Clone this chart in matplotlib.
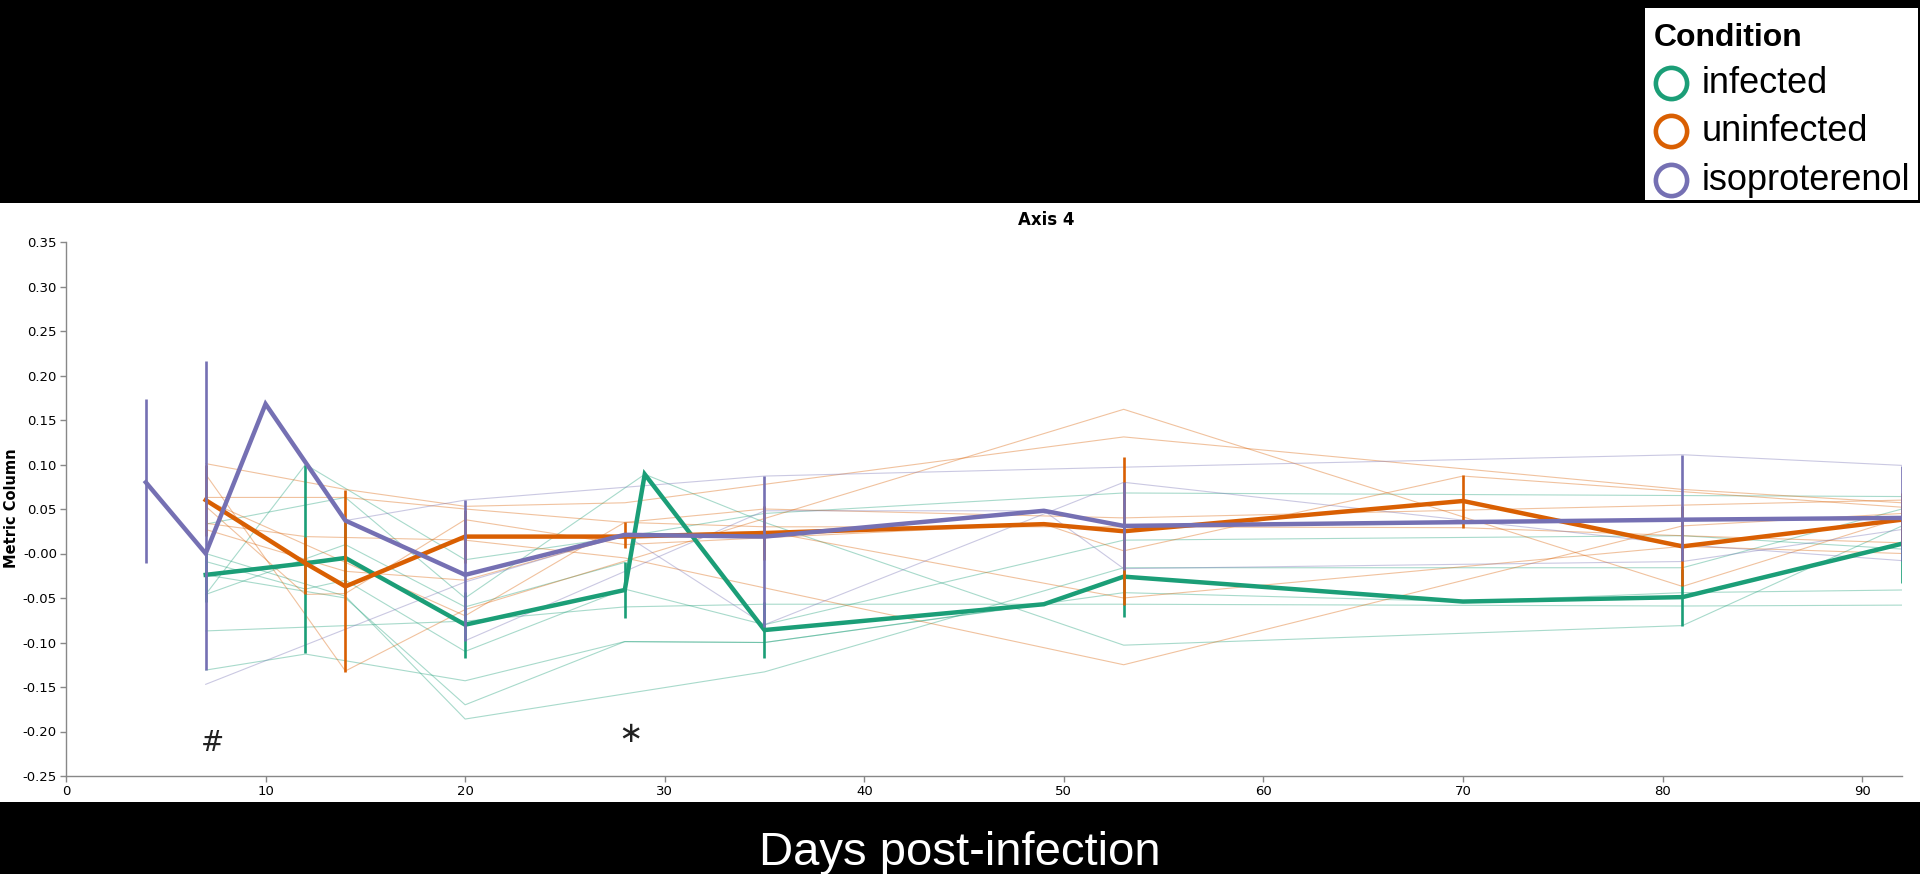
import matplotlib
matplotlib.use("Agg")
import matplotlib.pyplot as plt
from matplotlib.patches import Rectangle
import numpy as np

plt.rcParams['axes.unicode_minus'] = False

# ---- data ----
conditions = ['infected', 'uninfected', 'isoproterenol']
colors = ['#1b9e77', '#d95f02', '#7570b3']

# group means and error-bar bounds (nan = no bar drawn)
infected_days = [7, 12, 14, 20, 28, 29, 35, 49, 53, 70, 81, 92]
infected_mean = [-0.024, -0.011, -0.005, -0.080, -0.041, 0.089, -0.086, -0.057, -0.026, -0.054, -0.049, 0.011]
infected_lo = [-0.054, -0.112, -0.045, -0.117, -0.073, np.nan, -0.117, np.nan, -0.071, np.nan, -0.081, -0.033]
infected_hi = [0.006, 0.100, 0.035, -0.043, -0.009, np.nan, -0.055, np.nan, 0.019, np.nan, -0.017, 0.055]

uninfected_days = [7, 12, 14, 20, 28, 35, 49, 53, 70, 81, 92]
uninfected_mean = [0.060, -0.011, -0.037, 0.019, 0.019, 0.023, 0.033, 0.025, 0.059, 0.008, 0.038]
uninfected_lo = [0.020, -0.046, -0.133, -0.011, 0.006, -0.007, np.nan, -0.058, 0.029, -0.037, 0.008]
uninfected_hi = [0.100, 0.019, 0.071, 0.049, 0.035, 0.053, np.nan, 0.108, 0.088, 0.053, 0.068]

iso_days = [4, 7, 10, 14, 20, 28, 35, 49, 53, 81, 92]
iso_mean = [0.080, 0.000, 0.168, 0.037, -0.024, 0.021, 0.019, 0.048, 0.031, 0.038, 0.040]
iso_lo = [-0.011, -0.131, np.nan, np.nan, -0.098, np.nan, -0.083, np.nan, -0.018, -0.008, -0.008]
iso_hi = [0.174, 0.216, np.nan, np.nan, 0.060, np.nan, 0.087, np.nan, 0.080, 0.111, 0.098]

# individual animals (thin lines)
infected_subjects = [
    ([7, 12, 20, 28, 35, 53, 92], [-0.046, 0.100, -0.007, 0.019, 0.045, 0.068, 0.064]),
    ([7, 14, 20, 29, 35, 53, 81, 92], [0.033, 0.063, -0.050, 0.089, 0.035, -0.103, -0.081, 0.031]),
    ([7, 20, 28, 35, 53, 81, 92], [-0.087, -0.076, -0.060, -0.057, -0.057, -0.059, -0.058]),
    ([7, 12, 20, 28, 35, 53, 70, 81, 92], [-0.131, -0.113, -0.143, -0.099, -0.100, -0.044, -0.054, -0.044, -0.041]),
    ([7, 14, 20, 35, 53, 81, 92], [0.000, -0.048, -0.186, -0.133, -0.016, -0.016, 0.050]),
    ([7, 14, 20, 28, 35, 49, 53], [-0.024, -0.050, -0.170, -0.099, -0.100, -0.057, -0.025]),
    ([7, 12, 14, 20, 28, 35, 53, 81, 92], [-0.009, -0.040, -0.030, -0.110, -0.040, -0.080, 0.015, 0.020, 0.005]),
    ([7, 14, 20, 28], [-0.046, 0.010, -0.060, -0.010]),
]
uninfected_subjects = [
    ([7, 14, 20, 28, 53, 81, 92], [0.101, 0.072, 0.053, 0.057, 0.131, 0.072, 0.057]),
    ([7, 14, 20, 53, 81, 92], [0.089, -0.132, -0.063, 0.162, -0.037, 0.040]),
    ([7, 12, 20, 28, 53, 81, 92], [0.034, 0.019, 0.015, -0.005, -0.125, 0.031, 0.045]),
    ([7, 14, 20, 28, 35, 53, 70, 81, 92], [0.063, 0.063, 0.050, 0.035, 0.030, 0.030, 0.029, 0.020, 0.012]),
    ([7, 12, 14, 20, 28, 49, 53, 70, 92], [0.053, -0.046, -0.045, 0.038, 0.010, 0.033, 0.003, 0.087, 0.052]),
    ([7, 14, 20, 28, 35, 53, 81, 92], [0.027, -0.020, -0.030, 0.020, 0.025, -0.050, 0.008, 0.000]),
    ([7, 20, 28, 35, 53, 92], [0.060, -0.070, 0.035, 0.050, 0.040, 0.060]),
]
iso_subjects = [
    ([14, 20, 35, 53, 81, 92], [0.037, 0.060, 0.087, 0.097, 0.111, 0.099]),
    ([7, 20, 28, 35, 53, 81, 92], [-0.147, -0.032, 0.021, -0.080, 0.080, 0.010, -0.008]),
    ([20, 35, 49, 53, 81, 92], [-0.098, 0.048, 0.048, -0.017, -0.009, 0.027]),
]

groups = [
    (infected_days, infected_mean, infected_lo, infected_hi, infected_subjects),
    (uninfected_days, uninfected_mean, uninfected_lo, uninfected_hi, uninfected_subjects),
    (iso_days, iso_mean, iso_lo, iso_hi, iso_subjects),
]

W, H = 1920, 874
fig = plt.figure(figsize=(W / 100, H / 100), dpi=100, facecolor='black')

# background layer in pixel coordinates
bg = fig.add_axes([0, 0, 1, 1], zorder=0)
bg.set_xlim(0, W)
bg.set_ylim(H, 0)
bg.axis('off')
bg.add_patch(Rectangle((0, 203), W, 599, facecolor='white', edgecolor='none'))

# main plot
ax = fig.add_axes([66 / W, 1 - 776 / H, (1902 - 66) / W, (776 - 242) / H], zorder=2)
ax.set_facecolor('none')

for (days, mean, lo, hi, subjects), c in zip(groups, colors):
    for d, v in subjects:
        ax.plot(d, v, color=c, lw=0.8, alpha=0.38, zorder=1)

for (days, mean, lo, hi, subjects), c in zip(groups, colors):
    d = np.array(days, dtype=float)
    lo = np.array(lo)
    hi = np.array(hi)
    ok = ~np.isnan(lo)
    ax.vlines(d[ok], lo[ok], hi[ok], color=c, lw=1.9, zorder=3)
    ax.plot(days, mean, color=c, lw=3.2, zorder=3, solid_joinstyle='miter')

ax.text(7.35, -0.213, '#', ha='center', va='center', fontsize=20, color='#222222')
ax.text(28.3, -0.203, '\u2217', ha='center', va='center', fontsize=21, color='#222222')

ax.set_xlim(0, 92)
ax.set_ylim(-0.25, 0.35)
ax.set_xticks(np.arange(0, 91, 10))
ax.set_yticks(np.arange(-0.25, 0.351, 0.05))
ax.set_yticklabels(['{:.2f}'.format(t) for t in np.arange(-0.25, 0.351, 0.05)])
for s in ['top', 'right']:
    ax.spines[s].set_visible(False)
for s in ['left', 'bottom']:
    ax.spines[s].set_color('#888888')
    ax.spines[s].set_linewidth(1.0)
ax.tick_params(colors='#888888', length=4.5, width=1, labelsize=9.5, labelcolor='black', pad=2)

fig.text(1046 / W, 1 - 225 / H, 'Axis 4', ha='center', va='baseline', fontsize=12, fontweight='bold')
fig.text(12 / W, 1 - 508 / H, 'Metric Column', rotation=90, ha='center', va='center',
         fontsize=10.5, fontweight='bold')

# x label on the black band
bg.text(960, 865, 'Days post-infection', ha='center', va='baseline', color='white',
        fontsize=34, family='Liberation Sans')

# legend box
bg.add_patch(Rectangle((1645, 8), 273, 192, facecolor='white', edgecolor='none'))
bg.text(1654, 46, 'Condition', ha='left', va='baseline', fontsize=23, fontweight='bold',
        family='Liberation Sans')
for name, c, y in zip(conditions, colors, [83, 131, 180]):
    bg.plot([1671], [y], marker='o', ms=22.5, mfc='none', mec=c, mew=3.3)
    bg.text(1702, y + 10, name, ha='left', va='baseline', fontsize=26, family='Liberation Sans')

fig.savefig('out.png', dpi=100, facecolor='black')
